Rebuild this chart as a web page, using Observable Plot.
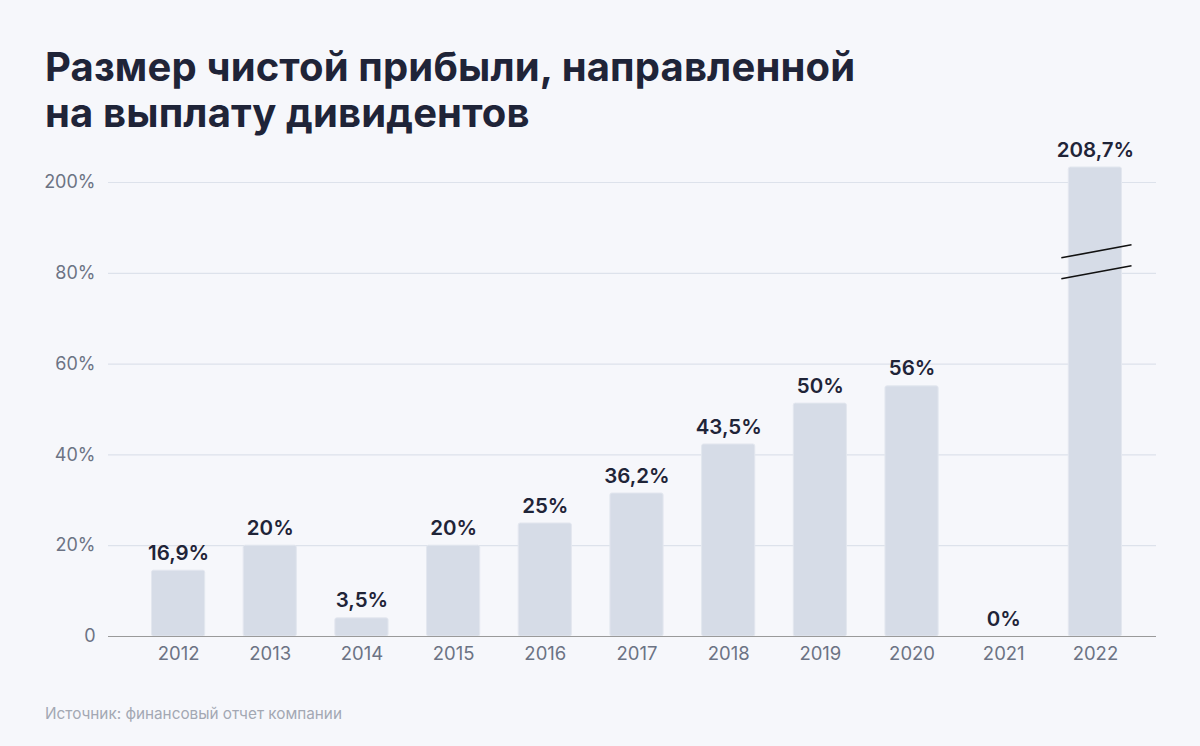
<!DOCTYPE html>
<html><head><meta charset="utf-8">
<script src="https://cdn.jsdelivr.net/npm/d3@7"></script>
<script src="https://cdn.jsdelivr.net/npm/@observablehq/plot@0.6"></script>
<style>
html,body{margin:0;padding:0;background:#f6f7fb;width:1200px;height:746px;overflow:hidden;}
#title{position:absolute;left:45px;top:44px;font-family:Inter,sans-serif;font-weight:700;font-size:40px;line-height:46px;color:#1f2438;letter-spacing:0.15px;}
#chart{position:absolute;left:0;top:140px;}
#caption{position:absolute;left:45px;top:704px;font-family:Inter,sans-serif;font-size:15.3px;color:#a3a8b3;}
</style></head>
<body>
<div id="title">Размер чистой прибыли, направленной<br>на выплату дивидентов</div>
<div id="chart"></div>
<div id="caption">Источник: финансовый отчет компании</div>
<script>
const years = ["2012","2013","2014","2015","2016","2017","2018","2019","2020","2021","2022"];
const barHeights = [14.5, 20, 4.0, 20, 24.9, 31.5, 42.3, 51.3, 55.1, 0, 208.7];
const valueLabels = ["16,9%","20%","3,5%","20%","25%","36,2%","43,5%","50%","56%","0%","208,7%"];
const yTicks = [0, 20, 40, 60, 80, 200];
const yTickLabels = ["0","20%","40%","60%","80%","200%"];

// broken axis: 0–80 linear, 80–200 compressed into 20 units, above 200 partly compressed
const brk = v => v <= 80 ? v : v <= 200 ? 80 + (v - 80) / 6 : 100 + (v - 200) * (3.3 / 8.7);

const data = years.map((y, i) => ({year: y, h: brk(barHeights[i]), label: valueLabels[i]}));
const tickData = yTicks.map((t, i) => ({y: brk(t), label: yTickLabels[i]}));

const breakMark = (index, scales) => {
  const g = d3.create("svg:g");
  const x0 = scales.x("2022");
  const bw = (scales.scales && scales.scales.x && scales.scales.x.bandwidth) || scales.x.bandwidth;
  const y80 = scales.y(brk(80));
  [0, -21].forEach(off => {
    g.append("line")
      .attr("x1", x0 - 7).attr("y1", y80 + 6 + off)
      .attr("x2", x0 + bw + 10).attr("y2", y80 - 7 + off)
      .attr("stroke", "#111").attr("stroke-width", 1.6);
  });
  return g.node();
};

const chart = Plot.plot({
  width: 1200,
  height: 540,
  marginLeft: 108,
  marginRight: 44,
  marginTop: 42,
  marginBottom: 44,
  style: {background: "transparent", fontFamily: "Inter, sans-serif", overflow: "visible"},
  x: {domain: years, range: [151.5, 1121.5], paddingInner: 0.42, paddingOuter: 0, round: false, label: null, axis: null},
  y: {domain: [0, 100], nice: false, label: null, axis: null},
  marks: [
    Plot.ruleY(tickData.filter(d => d.y > 0), {y: "y", stroke: "#dde2eb", strokeWidth: 1.2}),
    Plot.barY(data, {x: "year", y: "h", fill: "#d6dce7", stroke: "#e3e7ef", strokeWidth: 1, rx: 2}),
    Plot.ruleY([0], {stroke: "#9a9a9a", strokeWidth: 1.2}),
    Plot.text(tickData, {y: "y", text: "label", frameAnchor: "left", textAnchor: "end", dx: -13, fontSize: 18, fill: "#6c7384"}),
    Plot.text(years, {x: d => d, text: d => d, frameAnchor: "bottom", dy: 23, fontSize: 18.5, fill: "#6c7384"}),
    Plot.text(data, {x: "year", y: "h", text: "label", dy: -17.5, fontSize: 20.5, fontWeight: 600, fill: "#1f2438"}),
    breakMark
  ]
});
document.getElementById("chart").appendChild(chart);
</script>
</body></html>
